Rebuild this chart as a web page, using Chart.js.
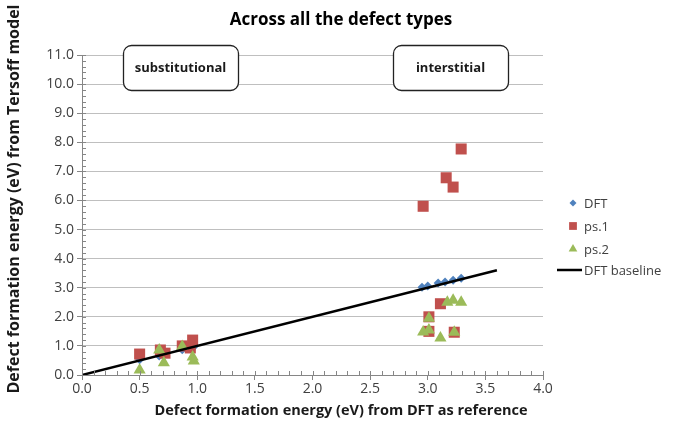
<!DOCTYPE html>
<html><head><meta charset="utf-8">
<script src="https://cdn.jsdelivr.net/npm/chart.js@4/dist/chart.umd.min.js"></script>
<style>html,body{margin:0;padding:0;background:#fff;}</style>
</head><body>
<canvas id="c" width="682" height="432"></canvas>
<script>
// ---- data ----
const seriesNames = ['DFT', 'ps.1', 'ps.2', 'DFT baseline'];
const dftX = [0.50, 0.67, 0.70, 0.87, 0.95, 0.97, 2.95, 3.00, 3.09, 3.15, 3.22, 3.29];
const dftY = [0.52, 0.65, 0.70, 0.87, 0.95, 0.97, 3.02, 3.06, 3.16, 3.20, 3.26, 3.33];
const ps1X = [0.50, 0.68, 0.72, 0.87, 0.96, 0.94, 2.96, 3.01, 3.01, 3.11, 3.16, 3.22, 3.23, 3.29];
const ps1Y = [0.72, 0.86, 0.75, 1.00, 1.20, 0.93, 5.80, 2.00, 1.50, 2.45, 6.78, 6.46, 1.47, 7.77];
const ps2X = [0.50, 0.67, 0.71, 0.87, 0.96, 0.97, 2.96, 3.01, 3.01, 3.11, 3.17, 3.22, 3.23, 3.29];
const ps2Y = [0.17, 0.86, 0.42, 0.98, 0.62, 0.48, 1.48, 1.95, 1.55, 1.27, 2.50, 2.57, 1.47, 2.50];
const baseX = [0, 3.6];
const baseY = [0, 3.6];
const xTickMin = 0, xTickMax = 4, xTickStep = 0.5;
const yTickMin = 0, yTickMax = 11, yTickStep = 1;
const chartTitle = 'Across all the defect types';
const xTitle = 'Defect formation energy (eV) from DFT as reference';
const yTitle = 'Defect formation energy (eV) from Tersoff model';
const regionLabels = ['substitutional', 'interstitial'];

const pts = (xs, ys) => xs.map((x, i) => ({x: x, y: ys[i]}));
const FONT = "'Open Sans', 'DejaVu Sans', sans-serif";
const COLORS = ['#4F81BD', '#C0504D', '#9BBB59', '#000000'];

const decorPlugin = {
  id: 'decor',
  afterDraw(chart) {
    const ctx = chart.ctx;
    const xs = chart.scales.x, ys = chart.scales.y;
    const ca = chart.chartArea;
    ctx.save();
    // minor ticks
    ctx.strokeStyle = '#868686';
    ctx.lineWidth = 1;
    ctx.beginPath();
    for (let i = 0; i <= 40; i++) {
      const px = Math.round(xs.getPixelForValue(i / 10)) + 0.5;
      ctx.moveTo(px, ca.bottom);
      ctx.lineTo(px, ca.bottom - 4);
    }
    for (let i = 0; i <= 55; i++) {
      const py = Math.round(ys.getPixelForValue(i / 5)) + 0.5;
      ctx.moveTo(ca.left, py);
      ctx.lineTo(ca.left + 4, py);
    }
    ctx.stroke();

    // chart title
    ctx.textAlign = 'center';
    ctx.textBaseline = 'middle';
    ctx.fillStyle = '#000';
    ctx.font = "bold 17px " + FONT;
    ctx.fillText(chartTitle, 341, 20);

    // axis titles
    ctx.fillStyle = '#1a1a1a';
    ctx.font = "bold 14.5px " + FONT;
    ctx.fillText(xTitle, 341, 411);
    ctx.save();
    ctx.translate(14, 199);
    ctx.rotate(-Math.PI / 2);
    ctx.font = "bold 16px " + FONT;
    ctx.fillText(yTitle, 0, 0);
    ctx.restore();

    // region label boxes
    const boxes = [[123, 45, 115, 45], [393, 45, 115, 45]];
    boxes.forEach((b, i) => {
      const [bx, by, bw, bh] = b;
      ctx.beginPath();
      ctx.roundRect(bx + 0.5, by + 0.5, bw, bh, 8);
      ctx.fillStyle = '#ffffff';
      ctx.fill();
      ctx.lineWidth = 1.3;
      ctx.strokeStyle = '#222';
      ctx.stroke();
      ctx.fillStyle = '#1a1a1a';
      ctx.font = "bold 13px " + FONT;
      ctx.fillText(regionLabels[i], bx + bw / 2, by + bh / 2 + 1);
    });

    // legend
    const ly = [203, 226, 249, 270];
    ctx.textAlign = 'left';
    ctx.font = "13px " + FONT;
    chart.data.datasets.forEach((ds, i) => {
      const y = ly[i];
      if (i === 3) {
        ctx.strokeStyle = '#000';
        ctx.lineWidth = 2.5;
        ctx.beginPath();
        ctx.moveTo(557, y);
        ctx.lineTo(582, y);
        ctx.stroke();
      } else {
        ctx.fillStyle = ds.backgroundColor;
        ctx.strokeStyle = ds.backgroundColor;
        Chart.helpers.drawPoint(ctx,
          {pointStyle: ds.pointStyle, rotation: 0, borderWidth: 0, radius: [3.5, 5.5, 5][i]},
          573, y);
      }
      ctx.fillStyle = '#404040';
      ctx.fillText(ds.label, 584, y + 1);
    });
    ctx.restore();
  }
};

new Chart(document.getElementById('c'), {
  type: 'scatter',
  data: {
    datasets: [
      {label: seriesNames[0], data: pts(dftX, dftY), pointStyle: 'rectRot', pointRadius: 4.5,
       backgroundColor: COLORS[0], borderColor: COLORS[0], borderWidth: 0, order: 4},
      {label: seriesNames[1], data: pts(ps1X, ps1Y), pointStyle: 'rect', pointRadius: 7.8,
       backgroundColor: COLORS[1], borderColor: COLORS[1], borderWidth: 0, order: 3},
      {label: seriesNames[2], data: pts(ps2X, ps2Y), pointStyle: 'triangle', pointRadius: 7,
       backgroundColor: COLORS[2], borderColor: COLORS[2], borderWidth: 0, order: 2},
      {label: seriesNames[3], data: pts(baseX, baseY), showLine: true, pointRadius: 0,
       borderColor: COLORS[3], backgroundColor: COLORS[3], borderWidth: 2.5, order: 1}
    ]
  },
  options: {
    responsive: false,
    animation: false,
    devicePixelRatio: 1,
    layout: {padding: {left: 0, right: 139, top: 55, bottom: 0}},
    plugins: {
      legend: {display: false},
      tooltip: {enabled: false},
      title: {display: false}
    },
    scales: {
      x: {
        type: 'linear', min: xTickMin, max: xTickMax,
        afterFit(s) { s.height = 57; },
        ticks: {stepSize: xTickStep, color: '#404040', padding: 1,
                font: {family: FONT, size: 14},
                callback: v => Number(v).toFixed(1)},
        grid: {drawOnChartArea: false, tickLength: 5, color: '#868686', tickColor: '#868686'},
        border: {color: '#868686'}
      },
      y: {
        type: 'linear', min: yTickMin, max: yTickMax,
        afterFit(s) { s.width = 82; },
        ticks: {stepSize: yTickStep, color: '#404040', padding: 3,
                font: {family: FONT, size: 14},
                callback: v => Number(v).toFixed(1)},
        grid: {color: '#BFBFBF', tickLength: 5, tickColor: '#868686'},
        border: {color: '#868686'}
      }
    }
  },
  plugins: [decorPlugin]
});
</script>
</body></html>
